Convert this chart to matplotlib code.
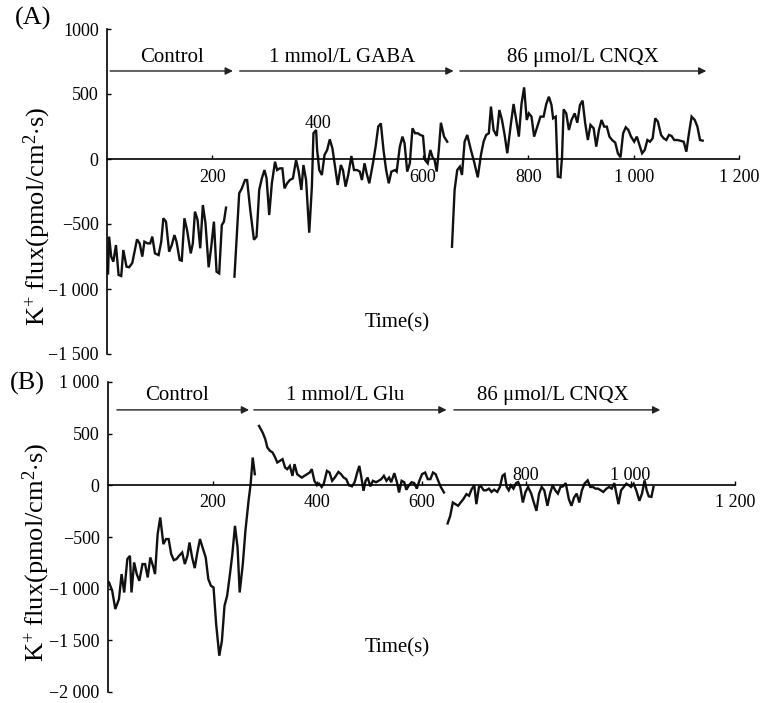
import matplotlib
matplotlib.use("Agg")
import matplotlib.pyplot as plt

# === SETTINGS === #
plt.rcParams['font.family'] = ['Liberation Serif', 'DejaVu Serif']
plt.rcParams['mathtext.fontset'] = 'custom'
plt.rcParams['mathtext.rm'] = 'Liberation Serif'
plt.rcParams['mathtext.it'] = 'Liberation Serif:italic'

W, H = 763, 703

# === DATA: panel A (GABA) === #
a_ctrl_t = [2, 4, 8, 12, 17, 22, 27, 31, 37, 42, 48, 57, 62, 67, 71, 77, 82, 86, 91, 98,
            103, 107, 112, 118, 123, 128, 132, 138, 142, 147, 152, 159, 163, 167, 172, 177,
            182, 187, 193, 198, 203, 208, 213, 218, 222, 226]
a_ctrl_v = [-880, -597, -751, -790, -662, -892, -900, -700, -828, -833, -800, -618, -649, -751,
            -636, -649, -649, -597, -726, -739, -636, -456, -482, -713, -662, -585, -636, -777,
            -782, -456, -546, -726, -649, -405, -469, -687, -354, -495, -833, -674, -482, -867,
            -880, -508, -482, -374]
a_gaba_t = [242, 251, 256, 262, 266, 272, 279, 284, 289, 294, 299, 303, 308, 313, 319, 323, 328,
            333, 337, 342, 347, 353, 359, 364, 369, 373, 378, 384, 389, 392, 397, 399, 403, 408,
            413, 418, 423, 428, 433, 438, 444, 448, 453, 458, 464, 469, 475, 480, 484, 489, 493,
            498, 505, 510, 515, 520, 525, 530, 535, 540, 547, 550, 556, 561, 565, 570, 575, 580,
            585, 590, 595, 600, 604, 609, 614, 618, 622, 626, 630, 634, 640, 646]
a_gaba_v = [-905, -264, -226, -162, -162, -392, -621, -597, -238, -149, -85, -149, -431, -187,
            -21, -85, -72, -72, -226, -187, -162, -149, -8, -97, -238, -46, -162, -567, -213, 198,
            223, 69, -85, -123, 31, 69, 151, 82, -59, -200, -46, -85, -213, -123, 23, -85, -85,
            -97, -162, -33, -110, -187, -33, 95, 249, 274, 69, -85, -187, -97, -85, -97, 95, 172,
            121, -97, -33, 236, 198, 198, 185, 177, -8, -33, 69, 15, -8, -97, 69, 279, 172, 133]
a_cnqx_t = [655, 660, 665, 670, 674, 679, 684, 691, 697, 704, 710, 715, 720, 725, 729, 734, 740,
            745, 750, 755, 760, 767, 772, 777, 782, 787, 792, 797, 801, 806, 811, 817, 823, 829,
            834, 839, 844, 847, 852, 856, 861, 864, 867, 872, 877, 882, 888, 893, 898, 903, 908,
            913, 918, 924, 929, 934, 939, 944, 949, 954, 959, 965, 970, 975, 980, 985, 990, 995,
            1001, 1006, 1011, 1016, 1021, 1026, 1031, 1036, 1041, 1046, 1052, 1057, 1062, 1067,
            1072, 1077, 1083, 1088, 1095, 1100, 1105, 1110, 1116, 1121, 1126, 1131]
a_cnqx_v = [-675, -238, -85, -59, -123, 133, 185, 69, -21, -141, 31, 133, 185, 198, 403, 223, 177,
            377, 300, 185, 44, 274, 423, 300, 172, 423, 551, 300, 351, 326, 172, 249, 326, 326,
            423, 479, 415, 313, 326, -136, -141, 18, 382, 351, 223, 300, 351, 279, 415, 449, 274,
            146, 262, 236, 95, 223, 300, 249, 249, 172, 146, 126, 44, 13, 198, 244, 223, 172, 133,
            172, 108, 44, 69, 146, 133, 159, 313, 287, 185, 159, 146, 185, 177, 146, 146, 141,
            133, 56, 198, 326, 300, 249, 146, 141]

# === DATA: panel B (Glu) === #
b_ctrl_t = [2, 8, 14, 21, 26, 31, 37, 42, 45, 50, 55, 60, 66, 71, 76, 81, 86, 90, 95, 100, 106,
            111, 116, 121, 126, 131, 136, 142, 147, 152, 156, 161, 166, 171, 176, 181, 187, 192,
            197, 202, 207, 213, 218, 223, 228, 233, 238, 243, 248, 252, 258, 263, 269, 273, 277,
            281]
b_ctrl_v = [-940, -1020, -1197, -1101, -859, -1037, -714, -682, -1037, -746, -859, -924, -762,
            -762, -891, -698, -778, -859, -472, -311, -569, -520, -520, -666, -724, -714, -682,
            -650, -762, -682, -553, -698, -801, -650, -520, -601, -698, -907, -972, -988, -1343,
            -1649, -1504, -1165, -1069, -875, -666, -392, -601, -1037, -762, -440, -150, 12, 269,
            108]
b_glu_t = [289, 296, 301, 305, 310, 315, 320, 324, 329, 334, 339, 343, 348, 353, 357, 362, 366,
           371, 376, 381, 386, 390, 395, 400, 404, 409, 413, 419, 424, 429, 434, 441, 446, 451,
           456, 461, 467, 472, 477, 481, 485, 489, 493, 497, 502, 507, 513, 518, 523, 528, 533,
           538, 542, 548, 553, 557, 562, 567, 571, 576, 581, 586, 591, 596, 601, 607, 612, 617,
           622, 627, 632, 637, 643]
b_glu_v = [575, 511, 447, 366, 334, 318, 269, 221, 237, 253, 172, 156, 188, 92, 205, 108, 92, 75,
           92, 108, 124, 156, 44, 0, 16, -16, 16, 140, 124, 44, 75, 130, 108, 75, 60, 0, -10, 30,
           124, 188, 75, -53, 44, 75, -10, 44, 30, 44, 60, 92, 44, 75, 30, 118, 30, -69, 44, 30,
           -43, 0, 30, 22, -32, 44, 108, 124, 60, 60, 124, 108, 44, -16, -69]
b_cnqx_t = [650, 655, 660, 665, 670, 675, 680, 686, 691, 696, 701, 705, 710, 714, 719, 724, 729,
            734, 739, 745, 750, 755, 759, 763, 767, 771, 776, 781, 785, 789, 794, 799, 804, 810,
            815, 820, 825, 830, 835, 841, 846, 851, 856, 861, 866, 871, 876, 882, 887, 892, 897,
            902, 907, 912, 918, 923, 928, 933, 938, 943, 948, 954, 959, 964, 969, 973, 977, 982,
            987, 992, 997, 1001, 1006, 1011, 1017, 1022, 1027, 1031, 1035, 1040, 1044]
b_cnqx_v = [-369, -295, -166, -182, -198, -166, -134, -85, -101, -37, 0, -182, -16, -10, -48, -48,
            -32, -64, -42, -64, -16, 92, 108, -16, -48, 0, -32, 22, 32, -16, -166, -64, -16, -80,
            -166, -247, -80, -16, -48, -198, -80, 0, -48, -80, -16, -10, 22, -134, -198, -118,
            -80, -166, -48, 16, 48, -16, -16, -32, -32, -48, -64, -32, -16, -32, 22, -80, -182,
            -48, -16, 16, 0, -16, 16, -48, -150, -80, 48, -48, -107, -112, -16]

# === LABELS === #
a_phases = ["Control", "1 mmol/L GABA", "86 \u03bcmol/L CNQX"]
b_phases = ["Control", "1 mmol/L Glu", "86 \u03bcmol/L CNQX"]
a_arrows = [(6, 239), (252, 658), (670, 1138)]
b_arrows = [(17, 270), (279, 648), (662, 1057)]
a_label_x = [123, 446, 903]
b_label_x = [132, 453, 851]

x_ticks = [200, 400, 600, 800, 1000, 1200]
x_ticklabels = ["200", "400", "600", "800", "1 000", "1 200"]
a_yticks = [1000, 500, 0, -500, -1000, -1500]
a_yticklabels = ["1000", "500", "0", "\u2212500", "\u22121 000", "\u22121 500"]
b_yticks = [1000, 500, 0, -500, -1000, -1500, -2000]
b_yticklabels = ["1 000", "500", "0", "\u2212500", "\u22121 000", "\u22121 500", "\u22122 000"]
a_above = [False, True, False, False, False, False]
b_above = [False, False, False, True, True, False]

YLABEL = r"K$^{+}$ flux(pmol/cm$^{2}$$\cdot$s)"


def style_axis(ax, ylim, yticks, yticklabels):
    ax.set_xlim(0, 1200)
    ax.set_ylim(*ylim)
    for s in ["top", "right"]:
        ax.spines[s].set_visible(False)
    ax.spines["bottom"].set_position(("data", 0))
    ax.spines["bottom"].set_linewidth(1.2)
    ax.spines["left"].set_linewidth(1.2)
    ax.set_yticks(yticks)
    ax.set_yticklabels(yticklabels, fontsize=13)
    ax.tick_params(axis="y", direction="in", length=3, width=1, pad=6)
    ax.set_xticks(x_ticks)
    ax.set_xticklabels([])
    ax.tick_params(axis="x", direction="in", length=3, width=1)
    ax.patch.set_alpha(0)


def draw_panel(ax, segments, phases, arrows, label_x, arrow_y, label_y, above, up_off, down_off):
    for t, v in segments:
        ax.plot(t, v, color="#111111", lw=1.7, solid_joinstyle="miter")
    for (x0, x1), name, lx in zip(arrows, phases, label_x):
        ax.annotate("", xy=(x1, arrow_y), xytext=(x0, arrow_y),
                    arrowprops=dict(arrowstyle="-|>", color="#222222", lw=1.0,
                                    mutation_scale=11, shrinkA=0, shrinkB=0))
        ax.text(lx, label_y, name, ha="center", va="center", fontsize=15)
    for xt, lab, up in zip(x_ticks, x_ticklabels, above):
        off = up_off if up else -down_off
        ax.annotate(lab, xy=(xt, 0), xytext=(0, off), textcoords="offset pixels",
                    ha="center", va="center", fontsize=13)


fig = plt.figure(figsize=(W / 100, H / 100), dpi=100)

# panel A
axA = fig.add_axes([107 / W, 1 - 354 / H, 632 / W, 325 / H])
style_axis(axA, (-1500, 1000), a_yticks, a_yticklabels)
draw_panel(axA, [(a_ctrl_t, a_ctrl_v), (a_gaba_t, a_gaba_v), (a_cnqx_t, a_cnqx_v)],
           a_phases, a_arrows, a_label_x, 677, 777, a_above, 35, 18)

# panel B
axB = fig.add_axes([108 / W, 1 - 692 / H, 627 / W, 310 / H])
style_axis(axB, (-2000, 1000), b_yticks, b_yticklabels)
draw_panel(axB, [(b_ctrl_t, b_ctrl_v), (b_glu_t, b_glu_v), (b_cnqx_t, b_cnqx_v)],
           b_phases, b_arrows, b_label_x, 730, 866, b_above, 10, 17)

# labels
fig.text(37 / W, 1 - 216 / H, YLABEL, rotation=90, ha="center", va="center", fontsize=19)
fig.text(36 / W, 1 - 552 / H, YLABEL, rotation=90, ha="center", va="center", fontsize=19)
fig.text(397 / W, 1 - 323 / H, "Time(s)", ha="center", va="center", fontsize=15)
fig.text(397 / W, 1 - 648 / H, "Time(s)", ha="center", va="center", fontsize=15)
fig.text(33 / W, 1 - 18 / H, "(A)", ha="center", va="center", fontsize=19)
fig.text(27 / W, 1 - 383 / H, "(B)", ha="center", va="center", fontsize=19)

fig.savefig("out.png", dpi=100)
